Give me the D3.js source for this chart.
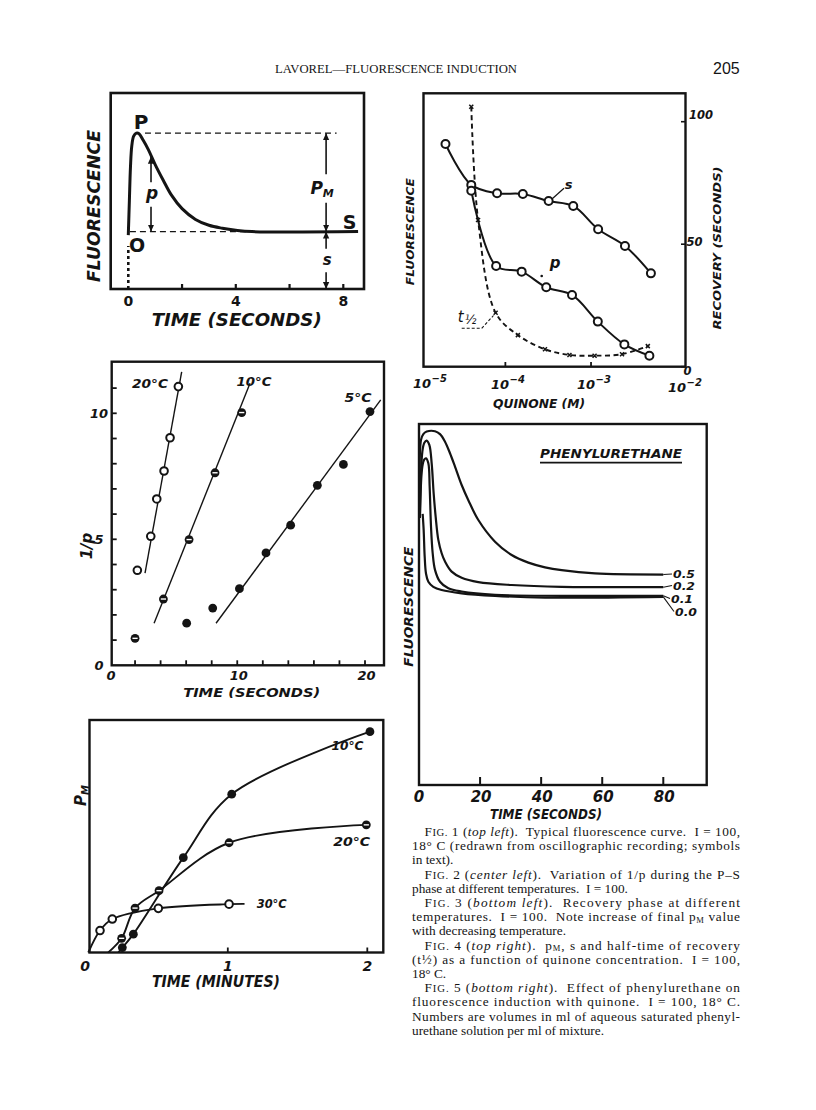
<!DOCTYPE html>
<html><head><meta charset="utf-8">
<script src="https://cdn.jsdelivr.net/npm/d3@7/dist/d3.min.js"></script>
<style>html,body{margin:0;padding:0;background:#fff}svg{display:block}</style>
</head><body>
<svg id="page" width="816" height="1110" xmlns="http://www.w3.org/2000/svg"></svg>
<script>
// ================= DATA =================
// Fig 1 – typical fluorescence curve
const fig1Time  = [0, 0.04, 0.08, 0.13, 0.2, 0.3, 0.4, 0.55, 0.75, 1.0, 1.3, 1.6, 2.0, 2.5, 3.0, 3.5, 4.0, 4.6, 8.55];
const fig1Fluor = [2.75, 4.5, 6.2, 7.3, 7.8, 7.95, 7.92, 7.6, 7.1, 6.35, 5.55, 4.8, 4.1, 3.55, 3.25, 3.1, 3.0, 2.93, 2.93];
const fig1Ticks = [2, 4, 6, 8];
const fig1TickLabels = [0, 4, 8];
const fig1LevelO = 2.93;
const fig1LevelP = 7.95;

// Fig 2 – 1/p vs time
const fig2Labels = ["20°C", "10°C", "5°C"];
const fig2Time20 = [2.18, 3.23, 3.70, 4.27, 4.74, 5.39];
const fig2Inv20  = [3.77, 5.12, 6.60, 7.71, 9.03, 11.06];
const fig2Time10 = [2.0, 4.22, 6.23, 8.26, 10.35];
const fig2Inv10  = [1.07, 2.63, 4.99, 7.64, 10.03];
const fig2Time5  = [6.04, 8.08, 10.17, 12.25, 14.18, 16.27, 18.31, 20.39];
const fig2Inv5   = [1.67, 2.27, 3.04, 4.46, 5.56, 7.14, 7.97, 10.07];
const fig2Fit20 = [[2.78, 3.66], [5.65, 11.64]];
const fig2Fit10 = [[3.49, 1.67], [11.0, 11.19]];
const fig2Fit5  = [[8.34, 1.67], [21.23, 10.53]];
const fig2YTicks = [1, 2, 3, 4, 5, 6, 7, 8, 9, 10, 11];
const fig2XTicks = [2, 4, 6, 8, 10, 12, 14, 16, 18, 20];
const fig2YLabels = [0, 5, 10];
const fig2XLabels = [0, 10, 20];

// Fig 3 – recovery phase (p_M vs minutes)
const fig3Labels = ["10°C", "20°C", "30°C"];
const fig3Time10 = [0.244, 0.323, 0.681, 1.028, 2.019];
const fig3PM10   = [2.1, 7.9, 40.8, 68.1, 95.0];
const fig3Time20 = [0.239, 0.335, 0.507, 1.009, 1.993];
const fig3PM20   = [6.1, 19.1, 26.6, 47.2, 54.9];
const fig3Time30 = [0.084, 0.172, 0.502, 1.009];
const fig3PM30   = [9.45, 14.4, 19.0, 20.8];
const fig3Start10 = [0.215, 0], fig3Start20 = [0.143, 0], fig3Start30 = [0, 0];
const fig3End30 = [1.12, 20.9];
const fig3XTicks = [1, 2];
const fig3XLabels = [0, 1, 2];

// Fig 4 – p_M, s, t1/2 vs quinone
const fig4ConcS = [2e-5, 4e-5, 8e-5, 1.6e-4, 3.2e-4, 6.2e-4, 1.21e-3, 2.49e-3, 5e-3];
const fig4S     = [90.9, 74.2, 70.8, 70.5, 67.6, 65.6, 56.1, 49.3, 38.1];
const fig4ConcP = [4e-5, 7.8e-5, 1.55e-4, 3.0e-4, 6.0e-4, 1.2e-3, 2.45e-3, 4.8e-3];
const fig4P     = [71.8, 41.1, 38.8, 32.4, 29.3, 18.4, 9.1, 4.5];
const fig4ConcT = [4e-5, 4.8e-5, 7.7e-5, 1.4e-4, 2.9e-4, 5.6e-4, 1.1e-3, 2.3e-3, 4.6e-3];
const fig4T     = [106.1, 59.9, 22.0, 12.9, 7.1, 4.8, 4.5, 5.1, 8.4];
const fig4XTicks = [1e-4, 1e-3];
const fig4XLabels = [-5, -4, -3, -2];
const fig4YLabels = [0, 50, 100];

// Fig 5 – phenylurethane
const fig5Names = ["0.5", "0.2", "0.1", "0.0"];
const fig5Time05 = [0.3, 0.66, 1.42, 2.51, 5.24, 6.88, 8.52, 10.15, 11.79, 13.97, 16.16, 19.43, 24.89, 30.35, 35.81, 41.27, 46.72, 57.64, 80];
const fig5F05    = [74, 95.6, 97.2, 97.9, 98.0, 97.2, 95.1, 91.9, 88.2, 83.1, 78.9, 73.4, 67.4, 63.7, 61.6, 60.3, 59.5, 58.6, 58.3];
const fig5Time02 = [0.3, 1.09, 1.75, 2.51, 3.38, 4.15, 4.80, 5.46, 6.33, 7.42, 8.52, 10.7, 13.97, 19.43, 30.35, 46.7, 80];
const fig5F02    = [74, 92.3, 94.8, 95.4, 94.2, 89.1, 80.8, 74.3, 67.9, 64.2, 61.9, 59.1, 57.4, 56.2, 55.4, 54.9, 54.8];
const fig5Time01 = [0.3, 1.09, 1.75, 2.29, 3.06, 3.49, 3.93, 4.48, 5.24, 6.88, 9.61, 13.97, 24.9, 46.7, 80];
const fig5F01    = [74, 88.2, 90.2, 90.5, 89.1, 82.6, 71.6, 64.2, 59.6, 56.3, 54.5, 53.6, 52.7, 52.4, 52.4];
const fig5Time00 = [1.2, 1.53, 1.86, 2.29, 3.06, 4.69, 7.42, 13.97, 24.9, 41.3, 80];
const fig5F00    = [75.1, 70.6, 63.3, 58.6, 56.3, 54.9, 54.0, 53.1, 52.4, 51.9, 52.1];
const fig5XTicks = [20, 40, 60, 80];
const fig5XLabels = [0, 20, 40, 60, 80];

// Caption
const captionText = [
  [["F","r"],["IG.","sc"],[" 1 (","r"],["top left","i"],[").  Typical fluorescence curve.  I = 100,","r"]],
  [["18° C (redrawn from oscillographic recording; symbols","r"]],
  [["in text).","r"]],
  [["F","r"],["IG.","sc"],[" 2 (","r"],["center left","i"],[").  Variation of 1/p during the P–S","r"]],
  [["phase at different temperatures.  I = 100.","r"]],
  [["F","r"],["IG.","sc"],[" 3 (","r"],["bottom left","i"],[").  Recovery phase at different","r"]],
  [["temperatures.  I = 100.  Note increase of final p","r"],["M","sub"],[" value","r"]],
  [["with decreasing temperature.","r"]],
  [["F","r"],["IG.","sc"],[" 4 (","r"],["top right","i"],[").  p","r"],["M","sub"],[", s and half-time of recovery","r"]],
  [["(t½) as a function of quinone concentration.  I = 100,","r"]],
  [["18° C.","r"]],
  [["F","r"],["IG.","sc"],[" 5 (","r"],["bottom right","i"],[").  Effect of phenylurethane on","r"]],
  [["fluorescence induction with quinone.  I = 100, 18° C.","r"]],
  [["Numbers are volumes in ml of aqueous saturated phenyl-","r"]],
  [["urethane solution per ml of mixture.","r"]]
];
const captionJustified = [1,1,0,1,0,1,1,0,1,1,0,1,1,1,0];
const captionIndented  = [1,0,0,1,0,1,0,0,1,0,0,1,0,0,0];
const headerText = "LAVOREL—FLUORESCENCE INDUCTION";
const pageNumber = "205";

// ================= DRAWING =================
const INK = "#141414";
const LET = "'DejaVu Sans', 'Liberation Sans', sans-serif";
const SERIF = "'Liberation Serif', 'DejaVu Serif', serif";
const svg = d3.select("#page");
svg.append("rect").attr("width", 816).attr("height", 1110).attr("fill", "#fff");
const defs = svg.append("defs");
defs.append("marker").attr("id", "ah").attr("viewBox", "0 0 10 10")
  .attr("refX", 10).attr("refY", 5).attr("markerWidth", 7).attr("markerHeight", 8)
  .attr("markerUnits", "userSpaceOnUse").attr("orient", "auto-start-reverse")
  .append("path").attr("d", "M0,0.5 L10,5 L0,9.5 Z").attr("fill", INK);

function txt(g, s, x, y, o = {}) {
  const t = g.append("text").attr("x", x).attr("y", y).text(s)
    .attr("font-family", o.family || LET).attr("font-size", o.size || 13)
    .attr("font-weight", o.weight || "bold").attr("font-style", o.style || "italic")
    .attr("text-anchor", o.anchor || "middle").attr("fill", INK);
  if (o.len) t.attr("textLength", o.len).attr("lengthAdjust", "spacingAndGlyphs");
  if (o.rot) t.attr("transform", `rotate(-90 ${x} ${y})`);
  return t;
}
function frame(g, x0, y0, x1, y1, w = 2.4) {
  g.append("rect").attr("x", x0).attr("y", y0).attr("width", x1 - x0).attr("height", y1 - y0)
    .attr("fill", "none").attr("stroke", INK).attr("stroke-width", w);
}
function marker(g, cx, cy, kind, r = 4.4) {
  if (kind === "open") {
    g.append("circle").attr("cx", cx).attr("cy", cy).attr("r", r - 0.6)
      .attr("fill", "#fff").attr("stroke", INK).attr("stroke-width", 2);
  } else {
    g.append("circle").attr("cx", cx).attr("cy", cy).attr("r", r).attr("fill", INK);
    if (kind === "half") {
      g.append("line").attr("x1", cx - 2.6).attr("x2", cx + 2.6).attr("y1", cy).attr("y2", cy)
        .attr("stroke", "#fff").attr("stroke-width", 1.4);
    }
  }
}
const cr = d3.curveCatmullRom.alpha(0.5);

// ---------- FIG 1 ----------
{
  const g = svg.append("g");
  const x = d3.scaleLinear().domain([0, 8]).range([128.3, 343.3]);
  const y = d3.scaleLinear().domain([0, 10]).range([289, 93]);
  frame(g, 110.7, 93, 364, 289, 2.6);
  fig1Ticks.forEach(t => g.append("line").attr("x1", x(t)).attr("x2", x(t)).attr("y1", y(0)).attr("y2", y(0) - 5)
    .attr("stroke", INK).attr("stroke-width", 2.2));
  fig1TickLabels.forEach(t => txt(g, t, x(t), 306, { size: 14, style: "normal" }));
  g.append("line").attr("x1", x(0.62)).attr("x2", x(7.75)).attr("y1", y(fig1LevelP)).attr("y2", y(fig1LevelP))
    .attr("stroke", INK).attr("stroke-width", 1.2).attr("stroke-dasharray", "6,4");
  g.append("line").attr("x1", x(0.06)).attr("x2", x(4.4)).attr("y1", y(fig1LevelO)).attr("y2", y(fig1LevelO))
    .attr("stroke", INK).attr("stroke-width", 1.2).attr("stroke-dasharray", "6,4");
  g.append("line").attr("x1", x(0)).attr("x2", x(0)).attr("y1", y(0)).attr("y2", y(2.2))
    .attr("stroke", INK).attr("stroke-width", 2.6).attr("stroke-dasharray", "3,3");
  const pts = fig1Time.map((t, i) => [t, fig1Fluor[i]]);
  g.append("path").attr("d", d3.line().x(d => x(d[0])).y(d => y(d[1])).curve(cr)(pts))
    .attr("fill", "none").attr("stroke", INK).attr("stroke-width", 3);
  const arr = (xv, a, b, head) => g.append("line").attr("x1", x(xv)).attr("x2", x(xv)).attr("y1", y(a)).attr("y2", y(b))
    .attr("stroke", INK).attr("stroke-width", 1.6).attr(head, "url(#ah)");
  arr(0.845, 6.75, 5.45, "marker-start"); arr(0.845, 4.2, fig1LevelO, "marker-end");
  arr(7.36, fig1LevelP, 5.85, "marker-start"); arr(7.36, 4.4, fig1LevelO, "marker-end");
  arr(7.36, fig1LevelO, 2.05, "marker-start"); arr(7.36, 0.85, 0, "marker-end");
  txt(g, "p", x(0.845) + 1, 199, { size: 17 });
  const pm = txt(g, "P", x(7.36) - 4, 194, { size: 17 });
  pm.append("tspan").attr("font-size", 11).attr("dy", 3).text("M");
  txt(g, "s", x(7.36) + 1, 265, { size: 15 });
  txt(g, "P", 141, 129, { size: 20, style: "normal", weight: "bold" });
  txt(g, "S", 349.5, 229, { size: 19, style: "normal", weight: "bold" });
  txt(g, "O", 137, 251.5, { size: 19, style: "normal", weight: "bold" });
  txt(g, "FLUORESCENCE", 99.5, 206, { size: 17, rot: true, len: 152 });
  txt(g, "TIME  (SECONDS)", 236.7, 326, { size: 17, len: 170 });
}

// ---------- FIG 2 ----------
{
  const g = svg.append("g");
  const x = d3.scaleLinear().domain([0, 20]).range([109.5, 365]);
  const y = d3.scaleLinear().domain([0, 10]).range([665.3, 413.3]);
  frame(g, 111.7, 361.7, 384, 665.3, 2.4);
  fig2YTicks.forEach(v => g.append("line").attr("x1", 111.7).attr("x2", 116.7).attr("y1", y(v)).attr("y2", y(v))
    .attr("stroke", INK).attr("stroke-width", 1.8));
  fig2XTicks.forEach(v => g.append("line").attr("x1", x(v)).attr("x2", x(v)).attr("y1", y(0)).attr("y2", y(0) - 5)
    .attr("stroke", INK).attr("stroke-width", 1.8));
  fig2YLabels.forEach(v => txt(g, v, 99, y(v) + 5, { size: 13 }));
  fig2XLabels.forEach(v => txt(g, v, x(v) + 1.5, 680, { size: 13 }));
  const ln = d3.line().x(d => x(d[0])).y(d => y(d[1]));
  [fig2Fit20, fig2Fit10, fig2Fit5].forEach(f => g.append("path").attr("d", ln(f))
    .attr("fill", "none").attr("stroke", INK).attr("stroke-width", 1.4));
  fig2Time20.forEach((t, i) => marker(g, x(t), y(fig2Inv20[i]), "open"));
  fig2Time10.forEach((t, i) => marker(g, x(t), y(fig2Inv10[i]), "half"));
  fig2Time5.forEach((t, i) => marker(g, x(t), y(fig2Inv5[i]), "filled"));
  txt(g, fig2Labels[0], 150, 388, { size: 12, len: 36 });
  txt(g, fig2Labels[1], 254, 386, { size: 12, len: 35 });
  txt(g, fig2Labels[2], 358, 402, { size: 12, len: 27 });
  txt(g, "TIME  (SECONDS)", 251.7, 697, { size: 13, len: 137 });
  txt(g, "1/p", 92, 546, { size: 15, rot: true, style: "italic" });
}

// ---------- FIG 3 ----------
{
  const g = svg.append("g");
  const x = d3.scaleLinear().domain([0, 2]).range([88.3, 367.3]);
  const y = d3.scaleLinear().domain([0, 100]).range([952.5, 720]);
  frame(g, 89.5, 720, 383.3, 952.5, 2.4);
  fig3XTicks.forEach(v => g.append("line").attr("x1", x(v)).attr("x2", x(v)).attr("y1", y(0)).attr("y2", y(0) - 5)
    .attr("stroke", INK).attr("stroke-width", 1.8));
  fig3XLabels.forEach(v => txt(g, v, v === 0 ? 85 : x(v), 970.5, { size: 14 }));
  const ln = d3.line().x(d => x(d[0])).y(d => y(d[1])).curve(cr);
  const c10 = [fig3Start10, ...fig3Time10.map((t, i) => [t, fig3PM10[i]])];
  const c20 = [fig3Start20, ...fig3Time20.map((t, i) => [t, fig3PM20[i]])];
  const c30 = [fig3Start30, ...fig3Time30.map((t, i) => [t, fig3PM30[i]]), fig3End30];
  [c10, c20, c30].forEach(c => g.append("path").attr("d", ln(c)).attr("fill", "none")
    .attr("stroke", INK).attr("stroke-width", 1.9));
  fig3Time30.forEach((t, i) => marker(g, x(t), y(fig3PM30[i]), "open"));
  fig3Time20.forEach((t, i) => marker(g, x(t), y(fig3PM20[i]), "half"));
  fig3Time10.forEach((t, i) => marker(g, x(t), y(fig3PM10[i]), "filled"));
  txt(g, fig3Labels[0], 347.5, 749.5, { size: 13, len: 32 });
  txt(g, fig3Labels[1], 351.7, 846, { size: 13, len: 37 });
  txt(g, fig3Labels[2], 271.7, 908, { size: 13, len: 30 });
  txt(g, "TIME  (MINUTES)", 216, 987, { size: 15, len: 128 });
  const pm = txt(g, "P", 86, 806, { size: 15, rot: true, anchor: "start" });
  pm.append("tspan").attr("font-size", 10).attr("dy", 3).text("M");
}

// ---------- FIG 4 ----------
{
  const g = svg.append("g");
  const x = d3.scaleLog().domain([1e-5, 1e-2]).range([419.7, 676.7]);
  const y = d3.scaleLinear().domain([0, 100]).range([366.7, 121.7]);
  frame(g, 423.5, 93.3, 685.5, 366.7, 2.4);
  fig4XTicks.forEach(v => g.append("line").attr("x1", x(v)).attr("x2", x(v)).attr("y1", 366.7).attr("y2", 362)
    .attr("stroke", INK).attr("stroke-width", 1.8));
  fig4YLabels.forEach(v => g.append("line").attr("x1", 685.5).attr("x2", 681).attr("y1", y(v)).attr("y2", y(v))
    .attr("stroke", INK).attr("stroke-width", 1.6));
  const yl = [[0, 687.5, 375], [50, 694.5, 246], [100, 701, 119]];
  yl.forEach(d => txt(g, d[0], d[1], d[2], { size: 13, len: String(d[0]).length * 8 }));
  const xlPos = { "-5": [431, 387.5], "-4": [509, 388.5], "-3": [595, 388.5], "-2": [686, 392] };
  fig4XLabels.forEach(e => {
    const p = xlPos[String(e)];
    txt(g, "10", p[0], p[1], { size: 13, anchor: "end" });
    g.append("text").attr("x", p[0] + 0.5).attr("y", p[1] - 6).text("−" + (-e))
      .attr("font-family", LET).attr("font-size", 10).attr("font-weight", "bold").attr("font-style", "italic").attr("fill", INK);
  });
  const ln = d3.line().x(d => x(d[0])).y(d => y(d[1])).curve(cr);
  const sPts = fig4ConcS.map((c, i) => [c, fig4S[i]]);
  const pPts = fig4ConcP.map((c, i) => [c, fig4P[i]]);
  const tPts = fig4ConcT.map((c, i) => [c, fig4T[i]]);
  g.append("path").attr("d", ln(sPts)).attr("fill", "none").attr("stroke", INK).attr("stroke-width", 2);
  g.append("path").attr("d", ln(pPts)).attr("fill", "none").attr("stroke", INK).attr("stroke-width", 2);
  g.append("path").attr("d", ln(tPts)).attr("fill", "none").attr("stroke", INK).attr("stroke-width", 1.9)
    .attr("stroke-dasharray", "5,3.5");
  tPts.forEach(d => {
    const cx = x(d[0]), cy = y(d[1]);
    g.append("path").attr("d", `M${cx - 2},${cy - 2}L${cx + 2},${cy + 2}M${cx - 2},${cy + 2}L${cx + 2},${cy - 2}`)
      .attr("stroke", INK).attr("stroke-width", 1.5);
  });
  sPts.forEach(d => marker(g, x(d[0]), y(d[1]), "open", 4.6));
  pPts.forEach(d => marker(g, x(d[0]), y(d[1]), "open", 4.6));
  txt(g, "s", 568.5, 188.5, { size: 13 });
  g.append("line").attr("x1", 551.7).attr("y1", 199.3).attr("x2", 564).attr("y2", 188.3).attr("stroke", INK).attr("stroke-width", 1.2);
  txt(g, "p", 555, 268, { size: 15 });
  g.append("circle").attr("cx", 541.7).attr("cy", 276).attr("r", 1.3).attr("fill", INK);
  const th = txt(g, "t", 467, 322, { size: 15, style: "italic", weight: "normal" });
  th.append("tspan").attr("font-size", 12).attr("dx", 1).attr("dy", 2).text("½");
  g.append("path").attr("d", "M461.7,328.3L481.7,328.3L493.5,315.5").attr("fill", "none")
    .attr("stroke", INK).attr("stroke-width", 1.1).attr("stroke-dasharray", "3,2");
  txt(g, "FLUORESCENCE", 414.5, 231.7, { size: 11, rot: true, len: 107 });
  txt(g, "RECOVERY  (SECONDS)", 721, 248, { size: 11, rot: true, len: 163 });
  txt(g, "QUINONE  (M)", 539, 407.5, { size: 12, len: 92 });
}

// ---------- FIG 5 ----------
{
  const g = svg.append("g");
  const x = d3.scaleLinear().domain([0, 80]).range([419, 663.3]);
  const y = d3.scaleLinear().domain([0, 100]).range([785, 424]);
  frame(g, 419, 424, 706.7, 785, 2.4);
  fig5XTicks.forEach(v => g.append("line").attr("x1", x(v)).attr("x2", x(v)).attr("y1", 785).attr("y2", 777)
    .attr("stroke", INK).attr("stroke-width", 2));
  fig5XLabels.forEach(v => txt(g, v, x(v) + (v ? 1 : 0), 802, { size: 15 }));
  const ln = d3.line().x(d => x(d[0])).y(d => y(d[1])).curve(cr);
  const series = [[fig5Time05, fig5F05], [fig5Time02, fig5F02], [fig5Time01, fig5F01], [fig5Time00, fig5F00]];
  series.forEach(s => {
    const pts = s[0].map((t, i) => [t, s[1][i]]);
    g.append("path").attr("d", ln(pts)).attr("fill", "none").attr("stroke", INK).attr("stroke-width", 2.2);
  });
  const endY = series.map(s => y(s[1][s[1].length - 1]));
  const labY = [578, 589.5, 602.5, 615.5];
  const labX = [684, 684, 682, 686];
  fig5Names.forEach((n, i) => {
    g.append("line").attr("x1", x(80)).attr("y1", endY[i]).attr("x2", labX[i] - 12).attr("y2", labY[i] - 4)
      .attr("stroke", INK).attr("stroke-width", 1.1);
    txt(g, n, labX[i], labY[i], { size: 10.5, len: 22 });
  });
  txt(g, "PHENYLURETHANE", 611, 458, { size: 13, len: 142 });
  g.append("line").attr("x1", 540).attr("x2", 682).attr("y1", 462.7).attr("y2", 462.7).attr("stroke", INK).attr("stroke-width", 1.8);
  txt(g, "FLUORESCENCE", 413, 606.7, { size: 12, rot: true, len: 120 });
  txt(g, "TIME  (SECONDS)", 546, 819, { size: 14, len: 112 });
}

// ---------- HEADER ----------
svg.append("text").attr("x", 275).attr("y", 73).text(headerText)
  .attr("font-family", SERIF).attr("font-size", 11.5).attr("fill", INK)
  .attr("textLength", 242).attr("lengthAdjust", "spacingAndGlyphs");
svg.append("text").attr("x", 713).attr("y", 74).text(pageNumber)
  .attr("font-family", "'Liberation Sans', sans-serif").attr("font-size", 16).attr("fill", INK);

// ---------- CAPTION ----------
{
  const g = svg.append("g").attr("font-family", SERIF).attr("font-size", 13.3).attr("fill", INK);
  const left = 412, indent = 12.5, right = 740, top = 836, lh = 14.2;
  captionText.forEach((segs, i) => {
    const x0 = left + (captionIndented[i] ? indent : 0);
    const t = g.append("text").attr("x", x0).attr("y", top + i * lh).style("white-space", "pre");
    let sub = false;
    segs.forEach(([s, k]) => {
      const ts = t.append("tspan").text(s);
      if (k === "i") ts.attr("font-style", "italic");
      if (k === "sc") ts.attr("font-size", 10.7);
      if (k === "sub") { ts.attr("font-size", 8.5).attr("dy", 1.6); sub = true; }
      else if (sub) { ts.attr("dy", -1.6); sub = false; }
    });
    if (captionJustified[i]) t.attr("textLength", right - x0).attr("lengthAdjust", "spacing");
  });
}
</script>
</body></html>
